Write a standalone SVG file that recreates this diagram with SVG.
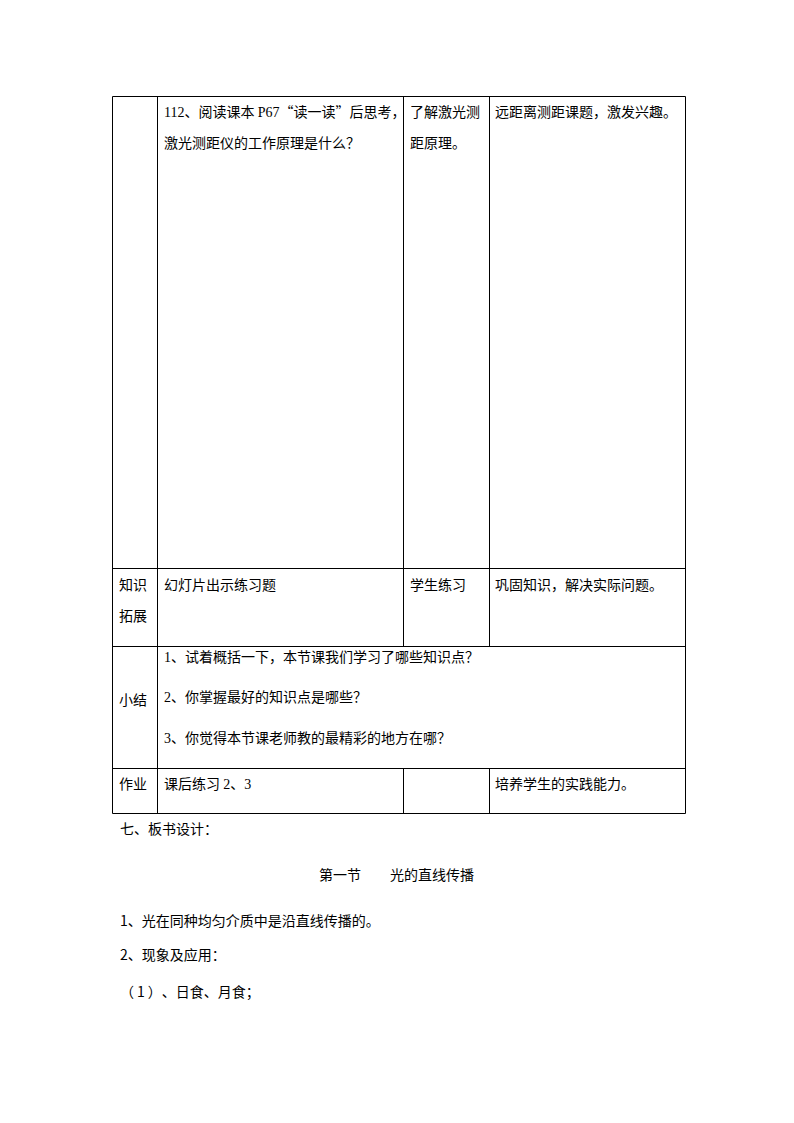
<svg xmlns="http://www.w3.org/2000/svg" width="794" height="1123" viewBox="0 0 794 1123">
<style>
text{font-family:"Noto Sans CJK SC","Liberation Serif",sans-serif;font-size:14px;fill:#000;text-spacing-trim:space-all}
.l{font-family:"Liberation Serif",serif}
.g line{stroke:#000;stroke-width:1}
</style>
<rect width="794" height="1123" fill="#fff"/>
<g class="g" id="table-grid">
<line x1="112.5" y1="96.5" x2="685.5" y2="96.5"/>
<line x1="112.5" y1="568.5" x2="685.5" y2="568.5"/>
<line x1="112.5" y1="646.5" x2="685.5" y2="646.5"/>
<line x1="112.5" y1="768.5" x2="685.5" y2="768.5"/>
<line x1="112.5" y1="813.5" x2="685.5" y2="813.5"/>
<line x1="112.5" y1="96.5" x2="112.5" y2="813.5"/>
<line x1="157.5" y1="96.5" x2="157.5" y2="813.5"/>
<line x1="403.5" y1="96.5" x2="403.5" y2="646.5"/>
<line x1="403.5" y1="768.5" x2="403.5" y2="813.5"/>
<line x1="489.5" y1="96.5" x2="489.5" y2="646.5"/>
<line x1="489.5" y1="768.5" x2="489.5" y2="813.5"/>
<line x1="685.5" y1="96.5" x2="685.5" y2="813.5"/>
</g>
<g id="row1">
<text x="164" y="117"><tspan class="l">112</tspan>、阅读课本 <tspan class="l">P67</tspan>“读一读”后思考，</text>
<text x="164" y="148">激光测距仪的工作原理是什么？</text>
<text x="410" y="117">了解激光测</text>
<text x="410" y="148">距原理。</text>
<text x="495" y="117">远距离测距课题，激发兴趣。</text>
</g>
<g id="row2">
<text x="119" y="590">知识</text>
<text x="119" y="621">拓展</text>
<text x="164" y="590">幻灯片出示练习题</text>
<text x="410" y="590">学生练习</text>
<text x="495" y="590">巩固知识，解决实际问题。</text>
</g>
<g id="row3">
<text x="119" y="705">小结</text>
<text x="164" y="662"><tspan class="l">1</tspan>、试着概括一下，本节课我们学习了哪些知识点？</text>
<text x="164" y="702"><tspan class="l">2</tspan>、你掌握最好的知识点是哪些？</text>
<text x="164" y="743"><tspan class="l">3</tspan>、你觉得本节课老师教的最精彩的地方在哪？</text>
</g>
<g id="row4">
<text x="119" y="789">作业</text>
<text x="164" y="789">课后练习 <tspan class="l">2</tspan>、<tspan class="l">3</tspan></text>
<text x="495" y="789">培养学生的实践能力。</text>
</g>
<g id="board">
<text x="120" y="834">七、板书设计：</text>
<text x="319" y="880">第一节</text>
<text x="390" y="880">光的直线传播</text>
<text x="120" y="926">1、光在同种均匀介质中是沿直线传播的。</text>
<text x="120" y="960">2、现象及应用：</text>
<text x="120" y="997">（<tspan dx="3">1</tspan><tspan dx="3">）</tspan>、日食、月食；</text>
</g>
</svg>
